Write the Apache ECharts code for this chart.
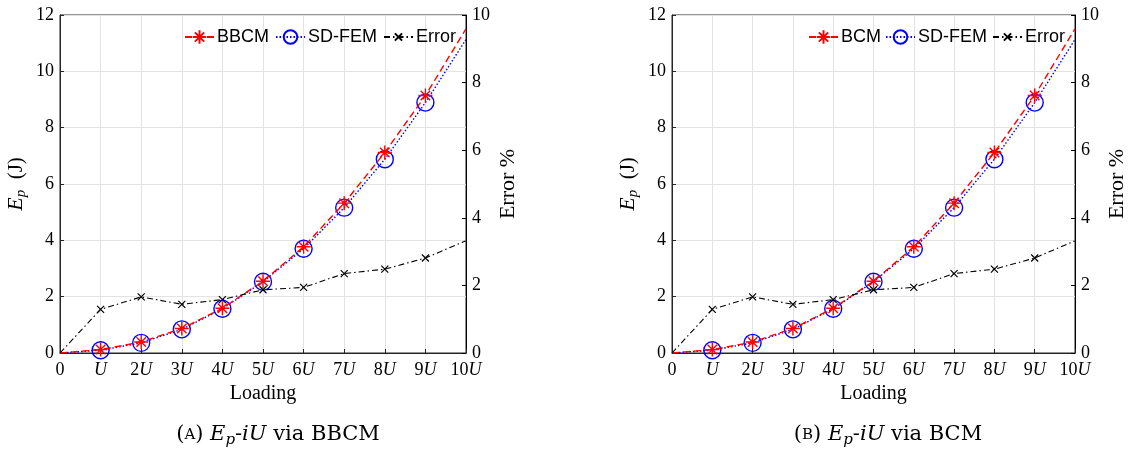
<!DOCTYPE html>
<html><head><meta charset="utf-8">
<script src="https://cdn.jsdelivr.net/npm/echarts@6/dist/echarts.min.js"></script>
<style>html,body{margin:0;padding:0;background:#fff}#c{width:1129px;height:454px}</style>
</head><body><div id="c"></div>
<script>
// ---- data ----
const loadings = ['0','U','2U','3U','4U','5U','6U','7U','8U','9U','10U'];
const bbcm   = [0, 0.12, 0.39, 0.87, 1.59, 2.55, 3.77, 5.32, 7.12, 9.14, 11.51];
const sdfemA = [0, 0.10, 0.36, 0.84, 1.57, 2.53, 3.70, 5.16, 6.88, 8.89, 11.13];
const errorA = [0, 1.29, 1.66, 1.44, 1.58, 1.87, 1.94, 2.35, 2.48, 2.81, 3.32];
const bcm    = [0, 0.12, 0.39, 0.87, 1.59, 2.55, 3.77, 5.32, 7.12, 9.14, 11.51];
const sdfemB = [0, 0.10, 0.36, 0.84, 1.57, 2.53, 3.70, 5.16, 6.88, 8.89, 11.13];
const errorB = [0, 1.29, 1.66, 1.44, 1.58, 1.87, 1.94, 2.35, 2.48, 2.81, 3.32];
const leftTicks = {min:0, max:12, interval:2};
const rightTicks = {min:0, max:10, interval:2};

const SERIF = 'Liberation Serif';
const CAPF = 'DejaVu Serif';
const SANS = 'Liberation Sans';
const AX = '#262626';
const GRIDC = '#e3e3e3';
const ASTER = 'path://M5,0L5,10M0,5L10,5M1.6,1.6L8.4,8.4M1.6,8.4L8.4,1.6';
const CROSS = 'path://M0,0L10,10M0,10L10,0';

function markEnds(arr){
  return arr.map((v,i)=> (i===0 || i===arr.length-1) ? {value:v, symbol:'none'} : v);
}

const grids = [
  {left:60, width:406, top:15, height:338, show:true, borderColor:AX, borderWidth:1},
  {left:672, width:407, top:15, height:338, show:true, borderColor:AX, borderWidth:1}
];

function xAxis(g){
  return {
    type:'category', gridIndex:g, data:loadings, boundaryGap:false,
    axisLine:{lineStyle:{color:AX, width:1}},
    axisTick:{inside:true, length:4, lineStyle:{color:AX}},
    splitLine:{show:true, lineStyle:{color:GRIDC}},
    axisLabel:{interval:0, margin:8, color:'#000', fontFamily:SERIF, fontSize:18,
      formatter:v => v==='0' ? '0' : v.replace('U','{i|U}'),
      rich:{i:{fontStyle:'italic', fontFamily:SERIF, fontSize:18, color:'#000'}}},
    name:'Loading', nameLocation:'middle', nameGap:30,
    nameTextStyle:{fontFamily:SERIF, fontSize:20, color:'#000'}
  };
}
function yLeft(g){
  return Object.assign({
    type:'value', gridIndex:g, position:'left',
    axisLine:{show:true, lineStyle:{color:AX}},
    axisTick:{show:true, inside:true, length:4, lineStyle:{color:AX}},
    splitLine:{show:true, lineStyle:{color:GRIDC}},
    axisLabel:{color:'#000', fontFamily:SERIF, fontSize:18, margin:6},
    name:'{i|E}{s|p}  (J)', nameLocation:'middle', nameGap:31, nameRotate:90,
    nameTextStyle:{fontFamily:SERIF, fontSize:21, color:'#000',
      rich:{i:{fontStyle:'italic', fontFamily:SERIF, fontSize:22, color:'#000'},
            s:{fontStyle:'italic', fontFamily:SERIF, fontSize:15, color:'#000', padding:[11,0,0,0]}}}
  }, leftTicks);
}
function yRight(g){
  return Object.assign({
    type:'value', gridIndex:g, position:'right',
    axisLine:{show:true, lineStyle:{color:'#000'}},
    axisTick:{show:true, inside:true, length:4, lineStyle:{color:'#000'}},
    splitLine:{show:false},
    axisLabel:{color:'#000', fontFamily:SERIF, fontSize:18, margin:6},
    name:'Error %', nameLocation:'middle', nameGap:31, nameRotate:90,
    nameTextStyle:{fontFamily:SERIF, fontSize:22, color:'#000'}
  }, rightTicks);
}

function mkSeries(name, data, g, yIdx, kind){
  const base = {name, type:'line', xAxisIndex:g, yAxisIndex:yIdx, data:markEnds(data),
    showSymbol:true, animation:false, clip:false, emphasis:{disabled:true}};
  if(kind==='red') return Object.assign(base, {
    z:4, symbol:ASTER, symbolSize:14,
    lineStyle:{color:'#ff0000', width:1.4, type:[7,4]},
    itemStyle:{color:'#ff0000', borderColor:'#ff0000', borderWidth:1.4}});
  if(kind==='blue') return Object.assign(base, {
    z:3, symbol:'circle', symbolSize:17,
    lineStyle:{color:'#0000ff', width:1.4, type:[1.5,2]},
    itemStyle:{color:'rgba(0,0,0,0)', borderColor:'#0000ff', borderWidth:1.4}});
  return Object.assign(base, {
    z:5, symbol:CROSS, symbolSize:7,
    lineStyle:{color:'#000', width:1.1, type:[6,3,1.5,3]},
    itemStyle:{color:'#000', borderColor:'#000', borderWidth:1.2}});
}

function legend(name, left, ih){
  return {
    left:left, top:28, orient:'horizontal', padding:0,
    itemWidth:29, itemHeight:ih, data:[name], selectedMode:false,
    textStyle:{fontFamily:SANS, fontSize:18, color:'#000', padding:[0,0,0,-2]}
  };
}

const capRich = {n:{fontFamily:CAPF, fontSize:21, fill:'#000'},
  sc:{fontFamily:CAPF, fontSize:15, fill:'#000'},
  i:{fontFamily:CAPF, fontSize:21, fontStyle:'italic', fill:'#000'},
  s:{fontFamily:CAPF, fontSize:15, fontStyle:'italic', fill:'#000', padding:[11,0,0,0]}};

const option = {
  backgroundColor:'#fff',
  animation:false,
  grid:grids,
  xAxis:[xAxis(0), xAxis(1)],
  yAxis:[yLeft(0), yRight(0), yLeft(1), yRight(1)],
  legend:[
    legend('BBCM', 184, 17), legend('SD-FEM', 275, 17), legend('Error', 383, 9),
    legend('BCM', 808, 17), legend('SD-FEM', 885, 17), legend('Error', 992, 9)
  ],
  series:[
    mkSeries('SD-FEM', sdfemA, 0, 0, 'blue'),
    mkSeries('BBCM', bbcm, 0, 0, 'red'),
    mkSeries('Error', errorA, 0, 1, 'err'),
    mkSeries('SD-FEM', sdfemB, 1, 2, 'blue'),
    mkSeries('BCM', bcm, 1, 2, 'red'),
    mkSeries('Error', errorB, 1, 3, 'err')
  ],
  graphic:[
    {type:'text', x:278, y:435, style:{
      text:'{n|(}{sc|A}{n|) }{i|E}{s|p}{n|-}{i|iU}{n| via BBCM}',
      align:'center', verticalAlign:'middle', rich:capRich}},
    {type:'text', x:888, y:435, style:{
      text:'{n|(}{sc|B}{n|) }{i|E}{s|p}{n|-}{i|iU}{n| via BCM}',
      align:'center', verticalAlign:'middle', rich:capRich}}
  ]
};
const chart = echarts.init(document.getElementById('c'), null, {renderer:'canvas'});
chart.setOption(option);
</script></body></html>
